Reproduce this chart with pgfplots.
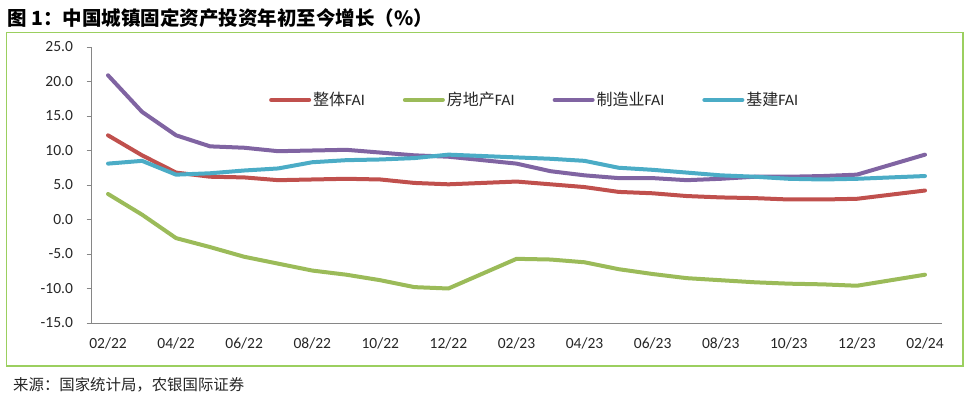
\documentclass[border=0pt]{standalone}
\usepackage{fontspec}
\setmainfont{Carlito}
\newfontfamily\cjk{Noto Sans CJK SC}
\usepackage{pgfplots}
\usepackage{pgfplotstable}
\pgfplotsset{compat=1.18}

\definecolor{fairred}{RGB}{192,80,77}
\definecolor{faigreen}{RGB}{155,187,89}
\definecolor{faipurple}{RGB}{128,100,162}
\definecolor{faiblue}{RGB}{75,172,198}
\definecolor{framegreen}{RGB}{155,207,95}
\definecolor{axisgray}{RGB}{134,134,134}

% YTD growth (%), monthly slots from 02/22 (0) to 02/24 (24); January has no release
\pgfplotstableread{
idx total realestate manuf infra
0   12.2   3.7  20.9  8.1
1    9.3   0.7  15.6  8.5
2    6.8  -2.7  12.2  6.5
3    6.2  -4.0  10.6  6.7
4    6.1  -5.4  10.4  7.1
5    5.7  -6.4   9.9  7.4
6    5.8  -7.4  10.0  8.3
7    5.9  -8.0  10.1  8.6
8    5.8  -8.8   9.7  8.7
9    5.3  -9.8   9.3  8.9
10   5.1 -10.0   9.1  9.4
12   5.5  -5.7   8.1  9.0
13   5.1  -5.8   7.0  8.8
14   4.7  -6.2   6.4  8.5
15   4.0  -7.2   6.0  7.5
16   3.8  -7.9   6.0  7.2
17   3.4  -8.5   5.7  6.8
18   3.2  -8.8   5.9  6.4
19   3.1  -9.1   6.2  6.2
20   2.9  -9.3   6.2  5.9
21   2.9  -9.4   6.3  5.8
22   3.0  -9.6   6.5  5.9
24   4.2  -8.0   9.4  6.3
}\faidata

\begin{document}
\begin{tikzpicture}
\path[use as bounding box] (0pt,0pt) rectangle (969pt,400pt);

% title and outer frame
\node[anchor=west, inner sep=0pt] at (7pt,382pt)
  {\cjk\bfseries\fontsize{19.5}{22}\selectfont 图 1：中国城镇固定资产投资年初至今增长（\%）};
\draw[framegreen, line width=1.6pt] (6.5pt,34.3pt) rectangle (963pt,367.3pt);

\begin{axis}[
  at={(91pt,77pt)}, anchor=south west,
  scale only axis, width=851pt, height=276pt,
  xmin=-0.5, xmax=24.5, ymin=-15, ymax=25,
  axis x line*=bottom, axis y line*=left,
  axis line style={axisgray, line width=1pt},
  tick align=outside,
  tick style={axisgray, line width=1pt},
  major tick length=4.5pt,
  xtick={0,2,...,24},
  xticklabels={02/22,04/22,06/22,08/22,10/22,12/22,02/23,04/23,06/23,08/23,10/23,12/23,02/24},
  x tick style={draw=none},
  extra x ticks={-0.5,1.5,...,23.5},
  extra x tick labels={},
  extra x tick style={tick style={axisgray, line width=1pt, draw=axisgray}},
  ytick={-15,-10,...,25},
  y tick label style={/pgf/number format/fixed, /pgf/number format/fixed zerofill,
    /pgf/number format/precision=1},
  /pgf/number format/assume math mode=true,
  tick label style={font=\fontsize{15.5}{17}\selectfont, text=black!85},
  xticklabel style={yshift=-7pt},
  yticklabel style={xshift=-10pt},
  legend style={at={(0.2056,0.808)}, anchor=west, draw=none, fill=none,
    font=\fontsize{16}{18}\selectfont, text=black!85,
    /tikz/every even column/.append style={column sep=36pt}},
  legend columns=4,
  legend cell align=left,
  legend image code/.code={\draw[#1, line width=4pt, line cap=round] (0pt,0pt) -- (38pt,0pt);},
  every axis plot/.append style={line width=4pt, line join=round, line cap=round, mark=none},
]
\addplot[fairred]   table[x=idx, y=total]      {\faidata};
\addlegendentry{{\cjk 整体}FAI}
\addplot[faigreen]  table[x=idx, y=realestate] {\faidata};
\addlegendentry{{\cjk 房地产}FAI}
\addplot[faipurple] table[x=idx, y=manuf]      {\faidata};
\addlegendentry{{\cjk 制造业}FAI}
\addplot[faiblue]   table[x=idx, y=infra]      {\faidata};
\addlegendentry{{\cjk 基建}FAI}
\end{axis}

% source line
\node[anchor=west, inner sep=0pt, text=black!85] at (13pt,15pt)
  {\cjk\fontsize{15.4}{17}\selectfont 来源：国家统计局，农银国际证券};
\end{tikzpicture}
\end{document}
